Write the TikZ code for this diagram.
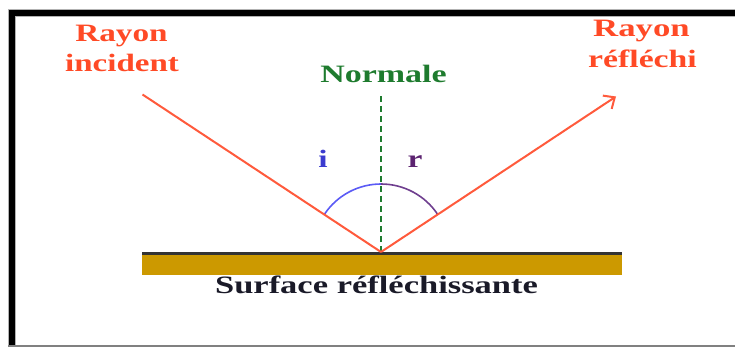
\documentclass[tikz,border=0pt]{standalone}
\usepackage{fontspec}
\setmainfont{Liberation Serif}
\usetikzlibrary{arrows.meta}
\definecolor{rayred}{HTML}{FF5A3C}
\definecolor{raytext}{HTML}{FF4A26}
\definecolor{normgreen}{HTML}{1E7B2E}
\definecolor{iblue}{HTML}{3B3BCF}
\definecolor{arcblue}{HTML}{5B5BF5}
\definecolor{rpurple}{HTML}{5C2370}
\definecolor{arcpurple}{HTML}{6F3F8F}
\definecolor{gold}{HTML}{CC9900}
\definecolor{surftext}{HTML}{1A1A28}
\newcommand{\sx}[2][1.34]{\scalebox{#1}[1]{#2}}
\tikzset{
  lbl/.style={anchor=base, inner sep=0pt, font=\bfseries\fontsize{25}{30}\selectfont},
  ray/.style={draw=rayred, line width=2pt},
  anglearc/.style={line width=1.6pt},
}
\begin{document}
\begin{tikzpicture}[x=1pt,y=-1pt]
\useasboundingbox (0,0) rectangle (735,347);
% frame
\draw[gray!60, line width=8pt] (11.5,347) -- (11.5,13) -- (735,13);
\draw[black, line width=6pt] (11.5,347) -- (11.5,13) -- (735,13);
\draw[gray, line width=2pt] (8,345.5) -- (735,345.5);
% surface
\fill[gold] (142,253) rectangle (622,275);
\draw[black!80, line width=3pt] (142,253) -- (622,253);
% points
\coordinate (O) at (381,252);
\coordinate (A) at (142.5,94.5);
\coordinate (B) at (616,96.5);
\coordinate (N) at (381,95);
% normal
\draw[normgreen, line width=2pt, dash pattern=on 6pt off 4pt] (O) -- (N);
% arcs
\draw[arcblue, anglearc] ([shift={(-146.4:68)}]O) arc[start angle=-146.4, end angle=-90, radius=68];
\draw[arcpurple, anglearc] ([shift={(-90:68)}]O) arc[start angle=-90, end angle=-33.5, radius=68];
% rays
\draw[ray] (A) -- (O);
\draw[ray, -{Straight Barb[length=9pt,width=16pt,line width=2pt]}] (O) -- (B);
% labels
\node[lbl, text=raytext] (ri1) at (121.5,42) {\sx[1.33]{Rayon}};
\node[lbl, text=raytext] (ri2) at (122,72) {\sx[1.32]{incident}};
\node[lbl, text=raytext] (rr1) at (641.5,37) {\sx[1.39]{Rayon}};
\node[lbl, text=raytext] (rr2) at (642.5,68) {\sx[1.35]{réfléchi}};
\node[lbl, text=normgreen] (norm) at (383.5,83) {\sx[1.36]{Normale}};
\node[lbl, text=iblue] (ang-i) at (323,168) {\sx{i}};
\node[lbl, text=rpurple] (ang-r) at (415,168) {\sx{r}};
\node[lbl, text=surftext] (surf) at (376.5,293) {\sx[1.38]{Surface réfléchissante}};
\end{tikzpicture}
\end{document}
